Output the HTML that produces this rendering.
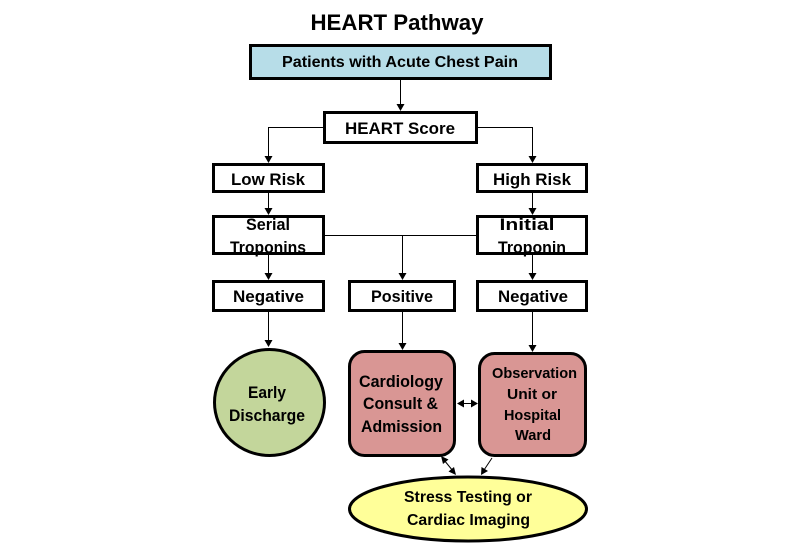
<!DOCTYPE html>
<html><head><meta charset="utf-8"><style>
html,body{margin:0;padding:0;background:#fff;width:800px;height:554px;overflow:hidden}
svg{display:block}
text{font-family:"Liberation Sans",Arial,sans-serif;font-weight:bold;fill:#000}
</style></head><body>
<svg width="800" height="554" viewBox="0 0 800 554" xmlns="http://www.w3.org/2000/svg">
<rect width="800" height="554" fill="#fff"/>
<text x="397" y="30" font-size="22" text-anchor="middle" textLength="173" lengthAdjust="spacingAndGlyphs">HEART Pathway</text>

<g stroke="#000" stroke-width="3">
<rect x="250.5" y="45.5" width="300" height="33" fill="#b7dde8"/>
<rect x="324.5" y="112.5" width="152" height="30" fill="#fff"/>
<rect x="213.5" y="164.5" width="110" height="27" fill="#fff"/>
<rect x="477.5" y="164.5" width="109" height="27" fill="#fff"/>
<rect x="213.5" y="216.5" width="110" height="37" fill="#fff"/>
<rect x="477.5" y="216.5" width="109" height="37" fill="#fff"/>
<rect x="213.5" y="281.5" width="110" height="29" fill="#fff"/>
<rect x="349.5" y="281.5" width="105" height="29" fill="#fff"/>
<rect x="477.5" y="281.5" width="109" height="29" fill="#fff"/>
<rect x="349.5" y="351.5" width="105" height="104" rx="15" fill="#d99694"/>
<rect x="479.5" y="353.5" width="106" height="102" rx="15" fill="#d99694"/>
<ellipse cx="269.5" cy="402.5" rx="55" ry="53" fill="#c3d69b"/>
<ellipse cx="468" cy="509" rx="118.5" ry="32" fill="#ffff99"/>
</g>

<g stroke="#000" stroke-width="1" fill="none">
<path d="M400.5 80 V105"/>
<path d="M323 127.5 H268.5 V157"/>
<path d="M478 127.5 H532.5 V157"/>
<path d="M268.5 193 V209"/>
<path d="M532.5 193 V209"/>
<path d="M268.5 255 V274"/>
<path d="M532.5 255 V274"/>
<path d="M325 235.5 H476"/>
<path d="M402.5 235.5 V274"/>
<path d="M268.5 312 V341"/>
<path d="M402.5 312 V344"/>
<path d="M532.5 312 V346"/>
<path d="M462 403.5 H473"/>
<path d="M444 460 L453 471"/>
<path d="M492 458 L484 470"/>
</g>
<g fill="#000">
<polygon points="396.5,104 404.5,104 400.5,111"/>
<polygon points="264.5,156 272.5,156 268.5,163"/>
<polygon points="528.5,156 536.5,156 532.5,163"/>
<polygon points="264.5,208 272.5,208 268.5,215"/>
<polygon points="528.5,208 536.5,208 532.5,215"/>
<polygon points="264.5,273 272.5,273 268.5,280"/>
<polygon points="528.5,273 536.5,273 532.5,280"/>
<polygon points="398.5,273 406.5,273 402.5,280"/>
<polygon points="264.5,340 272.5,340 268.5,347"/>
<polygon points="398.5,343 406.5,343 402.5,350"/>
<polygon points="528.5,345 536.5,345 532.5,352"/>
<polygon points="457,403.5 464,399.5 464,407.5"/>
<polygon points="478,403.5 471,399.5 471,407.5"/>
<polygon points="441,456 448.5,459.5 443,464"/>
<polygon points="456,475 448.5,471.5 454,467"/>
<polygon points="481,475 481.5,467 488,471"/>
</g>

<text x="400" y="67" font-size="16" text-anchor="middle" textLength="236" lengthAdjust="spacingAndGlyphs">Patients with Acute Chest Pain</text>
<text x="400" y="134" font-size="17" text-anchor="middle" textLength="110" lengthAdjust="spacingAndGlyphs">HEART Score</text>
<text x="268" y="185" font-size="17" text-anchor="middle" textLength="74" lengthAdjust="spacingAndGlyphs">Low Risk</text>
<text x="532" y="185" font-size="17" text-anchor="middle" textLength="78" lengthAdjust="spacingAndGlyphs">High Risk</text>
<text x="268" y="230" font-size="17" text-anchor="middle" textLength="44" lengthAdjust="spacingAndGlyphs">Serial</text>
<text x="268" y="253" font-size="17" text-anchor="middle" textLength="76" lengthAdjust="spacingAndGlyphs">Troponins</text>
<text x="527" y="230" font-size="17" text-anchor="middle" textLength="55" lengthAdjust="spacingAndGlyphs">Initial</text>
<text x="532" y="253" font-size="17" text-anchor="middle" textLength="68" lengthAdjust="spacingAndGlyphs">Troponin</text>
<text x="268.5" y="302" font-size="17" text-anchor="middle" textLength="71" lengthAdjust="spacingAndGlyphs">Negative</text>
<text x="402" y="302" font-size="17" text-anchor="middle" textLength="62" lengthAdjust="spacingAndGlyphs">Positive</text>
<text x="533" y="302" font-size="17" text-anchor="middle" textLength="70" lengthAdjust="spacingAndGlyphs">Negative</text>
<text x="267" y="398" font-size="17" text-anchor="middle" textLength="38" lengthAdjust="spacingAndGlyphs">Early</text>
<text x="267" y="421" font-size="17" text-anchor="middle" textLength="76" lengthAdjust="spacingAndGlyphs">Discharge</text>
<text x="401" y="387" font-size="17" text-anchor="middle" textLength="84" lengthAdjust="spacingAndGlyphs">Cardiology</text>
<text x="400.5" y="409" font-size="17" text-anchor="middle" textLength="75" lengthAdjust="spacingAndGlyphs">Consult &amp;</text>
<text x="401.5" y="432" font-size="17" text-anchor="middle" textLength="81" lengthAdjust="spacingAndGlyphs">Admission</text>
<text x="534.5" y="378" font-size="15" text-anchor="middle" textLength="85" lengthAdjust="spacingAndGlyphs">Observation</text>
<text x="532" y="399" font-size="15" text-anchor="middle" textLength="50" lengthAdjust="spacingAndGlyphs">Unit or</text>
<text x="532.5" y="420" font-size="15" text-anchor="middle" textLength="57" lengthAdjust="spacingAndGlyphs">Hospital</text>
<text x="533" y="440" font-size="15" text-anchor="middle" textLength="36" lengthAdjust="spacingAndGlyphs">Ward</text>
<text x="468" y="502" font-size="16" text-anchor="middle" textLength="128" lengthAdjust="spacingAndGlyphs">Stress Testing or</text>
<text x="468.5" y="525" font-size="16" text-anchor="middle" textLength="123" lengthAdjust="spacingAndGlyphs">Cardiac Imaging</text>
</svg>
</body></html>
